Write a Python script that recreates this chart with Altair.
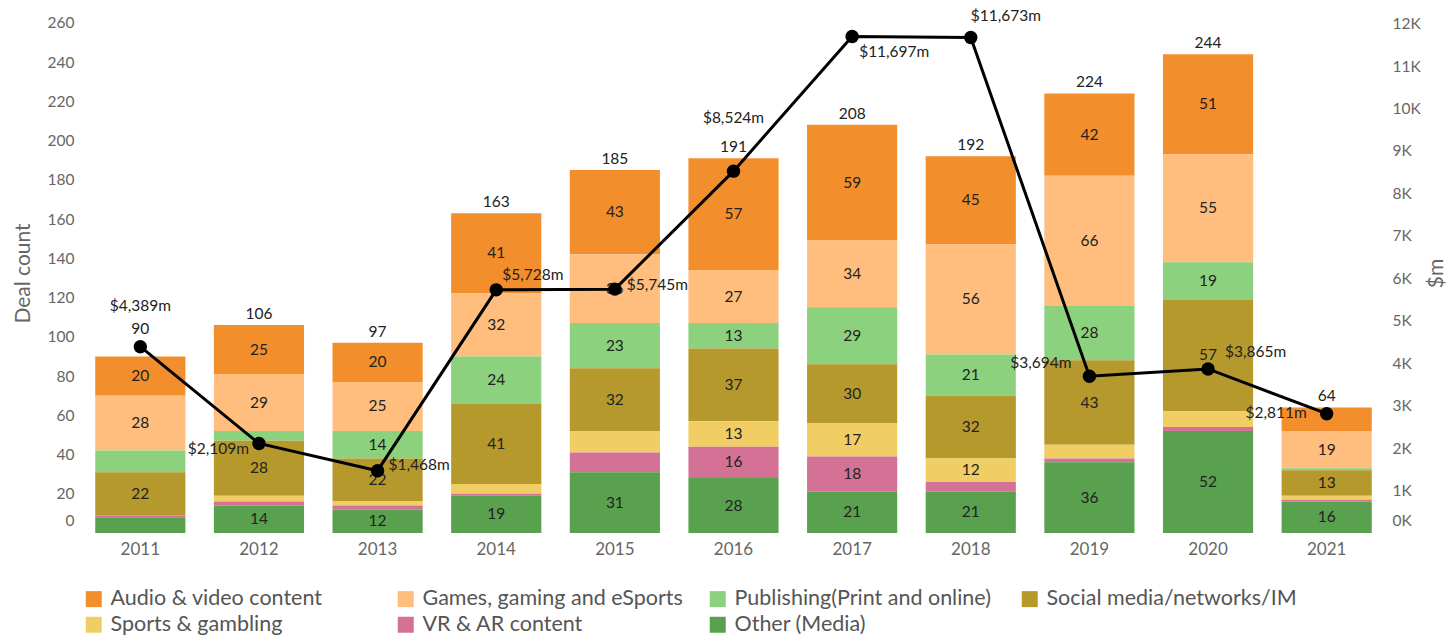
import altair as alt
import pandas as pd

years = ["2011", "2012", "2013", "2014", "2015", "2016", "2017", "2018", "2019", "2020", "2021"]
categories = ["Audio & video content", "Games, gaming and eSports", "Publishing(Print and online)",
              "Social media/networks/IM", "Sports & gambling", "VR & AR content", "Other (Media)"]
colors = ["#F28E2B", "#FFBE7D", "#8CD17D", "#B6992D", "#F1CE63", "#D37295", "#59A14F"]

audio = [20, 25, 20, 41, 43, 57, 59, 45, 42, 51, 12]
games = [28, 29, 25, 32, 35, 27, 34, 56, 66, 55, 19]
publishing = [11, 5, 14, 24, 23, 13, 29, 21, 28, 19, 1]
social = [22, 28, 22, 41, 32, 37, 30, 32, 43, 57, 13]
sports = [0, 3, 2, 5, 11, 13, 17, 12, 7, 8, 2]
vr = [1, 2, 2, 1, 10, 16, 18, 5, 2, 2, 1]
other = [8, 14, 12, 19, 31, 28, 21, 21, 36, 52, 16]

deal_value = [4389, 2109, 1468, 5728, 5745, 8524, 11697, 11673, 3694, 3865, 2811]

series = [audio, games, publishing, social, sports, vr, other]

rows = []
for ci, (cat, vals) in enumerate(zip(categories, series)):
    for y, v in zip(years, vals):
        rows.append({"year": y, "category": cat, "count": v, "order": len(categories) - 1 - ci})
df = pd.DataFrame(rows)
line_df = pd.DataFrame({"year": years, "value": deal_value})

FONT = "Lato"
W, H = 1305, 520
LEFT, TOP = 81, 13
LBL = 15.5

x_enc = alt.X("year:N", sort=years,
              scale=alt.Scale(paddingInner=0.24, paddingOuter=0.12),
              axis=alt.Axis(title=None, domain=False, ticks=False, labelAngle=0,
                            labelFontSize=17, labelColor="#666", labelPadding=8, labelFont=FONT))

left_scale = alt.Scale(domain=[0, 265], nice=False, zero=True)
left_axis = alt.Axis(title="Deal count", values=list(range(0, 261, 20)), grid=False, domain=False,
                     ticks=False, labelFontSize=LBL, labelColor="#666", labelPadding=7,
                     labelFlush=True, labelFlushOffset=-5, titleFontSize=21, titleColor="#666",
                     titleFontWeight="normal", titlePadding=14, labelFont=FONT, titleFont=FONT)

bars = alt.Chart(df).mark_bar().encode(
    x=x_enc,
    y=alt.Y("count:Q", stack="zero", scale=left_scale, axis=left_axis),
    color=alt.Color("category:N", scale=alt.Scale(domain=categories, range=colors),
                    legend=alt.Legend(title=None, orient="none", direction="horizontal",
                                      legendX=2, legendY=575, columns=4,
                                      symbolType="square", symbolSize=256, symbolStrokeWidth=0,
                                      labelFontSize=21.5, labelColor="#555", labelFont=FONT,
                                      gridAlign="all", columnPadding=24, rowPadding=3,
                                      labelOffset=6, labelLimit=400)),
    order=alt.Order("order:Q", sort="ascending"),
)

seg_labels = alt.Chart(df).transform_stack(
    stack="count", groupby=["year"], sort=[alt.SortField("order", order="ascending")], as_=["y0", "y1"]
).transform_calculate(
    mid="(datum.y0 + datum.y1) / 2"
).transform_filter(
    "datum.count >= 12 && !(datum.year == '2021' && datum.category == 'Audio & video content')"
).mark_text(fontSize=LBL, color="#222", font=FONT, baseline="middle").encode(
    x=x_enc,
    y=alt.Y("mid:Q", scale=left_scale, axis=left_axis),
    text="count:Q",
)

totals_base = alt.Chart(df).transform_aggregate(total="sum(count)", groupby=["year"])
totals = totals_base.transform_filter("datum.year != '2011'").mark_text(
    fontSize=LBL, color="#222", font=FONT, baseline="middle", dy=-11).encode(
    x=x_enc, y=alt.Y("total:Q", scale=left_scale, axis=left_axis), text="total:Q")
totals_2011 = totals_base.transform_filter("datum.year == '2011'").mark_text(
    fontSize=LBL, color="#222", font=FONT, baseline="middle", dy=-27).encode(
    x=x_enc, y=alt.Y("total:Q", scale=left_scale, axis=left_axis), text="total:Q")

left_layer = alt.layer(bars, seg_labels, totals, totals_2011)

right_scale = alt.Scale(domain=[0, 12250], nice=False, zero=True)
right_axis = alt.Axis(title="$m", orient="right", values=list(range(0, 12001, 1000)), grid=False,
                      domain=False, ticks=False, labelExpr="(datum.value / 1000) + 'K'",
                      labelFontSize=LBL, labelColor="#666", labelPadding=6, labelFlush=True,
                      labelFlushOffset=-5, titleFontSize=21, titleColor="#666", titleFontWeight="normal",
                      titleAngle=270, titlePadding=26, labelFont=FONT, titleFont=FONT)
y_right = alt.Y("value:Q", scale=right_scale, axis=right_axis)

line = alt.Chart(line_df).mark_line(color="#000", strokeWidth=3).encode(x=x_enc, y=y_right)
points = alt.Chart(line_df).mark_point(filled=True, color="#000", size=180, opacity=1).encode(x=x_enc, y=y_right)

placements = {
    "2011": ("center", 0, -41),
    "2012": ("right", -10, 6),
    "2013": ("left", 11, -6),
    "2014": ("left", 6, -15),
    "2015": ("left", 12, -4),
    "2016": ("center", 0, -53),
    "2017": ("left", 7, 16),
    "2018": ("left", 0, -21),
    "2019": ("right", -18, -13),
    "2020": ("left", 17, -17),
    "2021": ("right", -20, -1),
}

dollar_layers = []
for yr, (al, ddx, ddy) in placements.items():
    dollar_layers.append(
        alt.Chart(line_df).transform_filter(f"datum.year == '{yr}'").transform_calculate(
            lbl="'$' + format(datum.value, ',') + 'm'"
        ).mark_text(fontSize=LBL, color="#222", font=FONT, align=al, baseline="middle", dx=ddx, dy=ddy).encode(
            x=x_enc, y=y_right, text="lbl:N")
    )

right_layer = alt.layer(line, points, *dollar_layers)

chart = alt.layer(left_layer, right_layer).resolve_scale(y="independent").properties(
    width=W, height=H,
    padding={"left": LEFT, "top": TOP, "right": 1449 - LEFT - W, "bottom": 635 - TOP - H},
    autosize=alt.AutoSizeParams(type="none"),
).configure(font=FONT).configure_view(stroke=None)

chart.save("out.html", embed_options={"renderer": "svg", "actions": False})
